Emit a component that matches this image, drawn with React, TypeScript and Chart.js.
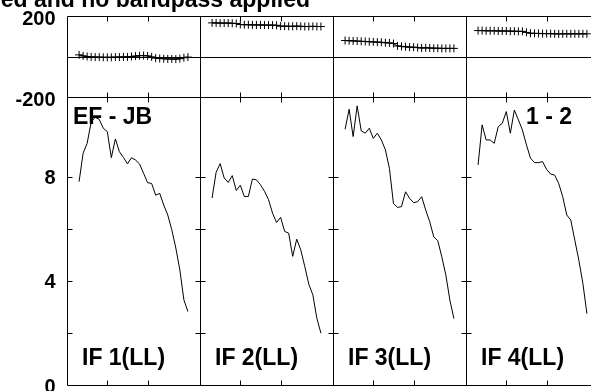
import { useEffect, useRef } from 'react';
import { Chart, registerables } from 'chart.js';

Chart.register(...registerables);

const TITLE = 'Calibration applied and no bandpass applied';
const BASELINE_LABEL = 'EF - JB';
const ANTENNA_LABEL = '1 - 2';
const IF_LABELS = ['IF 1(LL)', 'IF 2(LL)', 'IF 3(LL)', 'IF 4(LL)'];

const CHANNELS = [3, 4, 5, 6, 7, 8, 9, 10, 11, 12, 13, 14, 15, 16, 17, 18, 19, 20, 21, 22, 23, 24, 25, 26, 27, 28, 29, 30];

const PHASE_IF1 = [8, 3, 0, -2, -3, -3, -4, -4, -4, -3, -3, -2, -2, 0, 2, 4, 5, 3, -2, -8, -10, -11, -12, -12, -13, -11, -6, -3];
const PHASE_IF2 = [166, 166, 165, 165, 165, 164, 163, 158, 157, 157, 156, 156, 156, 155, 155, 155, 154, 150, 150, 149, 149, 150, 149, 148, 148, 149, 148, 148];
const PHASE_IF3 = [79, 78, 77, 76, 75, 74, 73, 72, 71, 70, 68, 67, 64, 52, 50, 48, 46, 46, 44, 42, 43, 42, 41, 41, 40, 40, 40, 40];
const PHASE_IF4 = [128, 128, 127, 127, 127, 126, 126, 126, 125, 125, 124, 124, 119, 115, 114, 114, 113, 113, 113, 112, 112, 112, 112, 112, 112, 112, 112, 112];

const AMP_IF1 = [7.81, 8.9, 9.28, 10.1, 10.28, 10.2, 9.86, 9.73, 8.73, 9.45, 8.96, 8.74, 8.49, 8.73, 8.64, 8.49, 8.13, 7.77, 7.74, 7.29, 7.36, 6.91, 6.53, 5.96, 5.26, 4.42, 3.27, 2.82];
const AMP_IF2 = [7.18, 8.17, 8.5, 7.95, 7.78, 8.04, 7.47, 7.67, 7.24, 7.24, 7.91, 7.88, 7.69, 7.44, 7.12, 6.6, 6.24, 6.44, 5.9, 5.83, 4.94, 5.6, 5.19, 4.55, 3.87, 3.46, 2.56, 1.99];
const AMP_IF3 = [9.82, 10.59, 9.54, 10.72, 9.76, 9.67, 9.86, 9.47, 9.67, 9.41, 9.03, 8.32, 6.97, 6.82, 6.85, 7.42, 7.17, 7.0, 7.04, 7.23, 6.72, 6.27, 5.69, 5.54, 4.92, 4.22, 3.26, 2.55];
const AMP_IF4 = [8.45, 9.99, 9.41, 9.41, 9.28, 9.92, 10.05, 10.5, 9.67, 10.56, 10.18, 9.79, 9.22, 8.71, 8.54, 8.54, 8.58, 8.28, 8.1, 8.06, 7.74, 7.23, 6.53, 6.33, 5.56, 4.79, 3.9, 2.74];

const PHASE_SERIES = [PHASE_IF1, PHASE_IF2, PHASE_IF3, PHASE_IF4];
const AMP_SERIES = [AMP_IF1, AMP_IF2, AMP_IF3, AMP_IF4];

const PHASE_MIN = -200;
const PHASE_MAX = 200;
const PHASE_TICK_LABELS = [-200, 200];
const AMP_MIN = 0;
const AMP_MAX = 11.06;
const AMP_TICK_LABELS = [0, 4, 8];
const CHANNEL_MIN = 0;
const CHANNEL_MAX = 33;

const X_IDS = ['x1', 'x2', 'x3', 'x4'];
const FONT_FAMILY = '"Liberation Sans", Arial, Helvetica, sans-serif';

const panelPlugin = {
  id: 'aipsPanels',
  afterDraw(chart: any) {
    const ctx = chart.ctx as CanvasRenderingContext2D;
    const yP = chart.scales.yP;
    const yA = chart.scales.yA;
    const px = (v: number) => Math.round(v) + 0.5;
    const seg = (x1: number, y1: number, x2: number, y2: number) => {
      ctx.beginPath();
      ctx.moveTo(x1, y1);
      ctx.lineTo(x2, y2);
      ctx.stroke();
    };
    ctx.save();
    ctx.strokeStyle = '#000';
    ctx.lineWidth = 1;
    const TL = 5;
    X_IDS.forEach((id) => {
      const xs = chart.scales[id];
      const l = px(xs.left);
      const r = px(xs.right);
      [yP, yA].forEach((ys: any) => {
        const t = px(ys.top);
        const b = px(ys.bottom);
        seg(l, t, r, t);
        seg(l, b, r, b);
        seg(l, t, l, b);
        seg(r, t, r, b);
      });
      const z = px(yP.getPixelForValue(0));
      seg(l, z, r, z);
      xs.ticks.forEach((tk: any) => {
        if (tk.value <= xs.min || tk.value >= xs.max) return;
        const x = px(xs.getPixelForValue(tk.value));
        [yP, yA].forEach((ys: any) => {
          const t = px(ys.top);
          const b = px(ys.bottom);
          seg(x, t, x, t + TL);
          seg(x, b, x, b - TL);
        });
      });
      yA.ticks.forEach((tk: any) => {
        if (tk.value <= yA.min || tk.value >= yA.max) return;
        if (Math.abs(tk.value % 2) > 1e-6) return;
        const y = px(yA.getPixelForValue(tk.value));
        seg(l, y, l + TL, y);
        seg(r - TL, y, r, y);
      });
    });

    ctx.fillStyle = '#000';
    ctx.font = 'bold 23px ' + FONT_FAMILY;
    ctx.textBaseline = 'alphabetic';
    ctx.textAlign = 'right';
    ctx.fillText(TITLE, 310, yP.top - 9);
    ctx.textAlign = 'left';
    const first = chart.scales[X_IDS[0]];
    const last = chart.scales[X_IDS[3]];
    ctx.fillText(BASELINE_LABEL, first.left + 6, yA.top + 27);
    ctx.fillText(ANTENNA_LABEL, last.left + 60, yA.top + 27);
    X_IDS.forEach((id, i) => {
      const xs = chart.scales[id];
      ctx.fillText(IF_LABELS[i], xs.left + 15, yA.bottom - 20);
    });
    ctx.restore();
  },
};

export default function App() {
  const ref = useRef<HTMLCanvasElement | null>(null);

  useEffect(() => {
    if (!ref.current) return;
    const datasets: any[] = [];
    X_IDS.forEach((id, i) => {
      datasets.push({
        label: 'Amp ' + IF_LABELS[i],
        data: CHANNELS.map((c, k) => ({ x: c, y: AMP_SERIES[i][k] })),
        xAxisID: id,
        yAxisID: 'yA',
        borderColor: '#000',
        borderWidth: 1,
        pointRadius: 0,
        tension: 0,
        fill: false,
      });
      datasets.push({
        label: 'Phase ' + IF_LABELS[i],
        data: CHANNELS.map((c, k) => ({ x: c, y: PHASE_SERIES[i][k] })),
        xAxisID: id,
        yAxisID: 'yP',
        borderColor: '#000',
        borderWidth: 1,
        pointStyle: 'cross',
        pointRadius: 4,
        pointBorderWidth: 1,
        pointBorderColor: '#000',
        tension: 0,
        fill: false,
      });
    });

    const scales: any = {};
    X_IDS.forEach((id) => {
      scales[id] = {
        type: 'linear',
        position: 'bottom',
        stack: 'cols',
        stackWeight: 1,
        min: CHANNEL_MIN,
        max: CHANNEL_MAX,
        ticks: { display: false, stepSize: 10 },
        grid: { display: false, drawTicks: false },
        border: { display: false },
        afterFit: (s: any) => {
          s.height = 0;
          s.paddingLeft = 0;
          s.paddingRight = 0;
        },
      };
    });
    const tickFont = { family: FONT_FAMILY, size: 20, weight: 'bold' as const };
    scales.yA = {
      type: 'linear',
      position: 'left',
      stack: 'rows',
      stackWeight: 288,
      min: AMP_MIN,
      max: AMP_MAX,
      ticks: {
        stepSize: 2,
        padding: 11.5,
        labelOffset: 2,
        color: '#000',
        font: tickFont,
        autoSkip: false,
        callback: (v: any) => (AMP_TICK_LABELS.includes(Number(v)) ? String(v) : ''),
      },
      grid: { display: false, drawTicks: false },
      border: { display: false },
      afterFit: (s: any) => {
        s.width = 67;
        s.paddingTop = 0;
        s.paddingBottom = 0;
      },
    };
    scales.yP = {
      type: 'linear',
      position: 'left',
      stack: 'rows',
      stackWeight: 81,
      min: PHASE_MIN,
      max: PHASE_MAX,
      ticks: {
        stepSize: 200,
        padding: 11.5,
        labelOffset: 3,
        color: '#000',
        font: tickFont,
        autoSkip: false,
        callback: (v: any) => (PHASE_TICK_LABELS.includes(Number(v)) ? String(v) : ''),
      },
      grid: { display: false, drawTicks: false },
      border: { display: false },
      afterFit: (s: any) => {
        s.width = 67;
        s.paddingTop = 0;
        s.paddingBottom = 0;
      },
    };

    const chart = new Chart(ref.current, {
      type: 'line',
      data: { datasets },
      options: {
        responsive: false,
        animation: false,
        devicePixelRatio: 1,
        layout: { padding: { top: 16, left: 0, right: 6, bottom: 6 } },
        plugins: {
          legend: { display: false },
          title: { display: false },
          tooltip: { enabled: false },
        },
        scales,
      },
      plugins: [panelPlugin],
    });
    return () => chart.destroy();
  }, []);

  return (
    <div
      style={{
        position: 'fixed',
        left: 0,
        top: 0,
        width: 591,
        height: 391,
        overflow: 'hidden',
        background: '#fff',
      }}
    >
      <canvas ref={ref} width={605} height={391} style={{ display: 'block', width: 605, height: 391 }} />
    </div>
  );
}
